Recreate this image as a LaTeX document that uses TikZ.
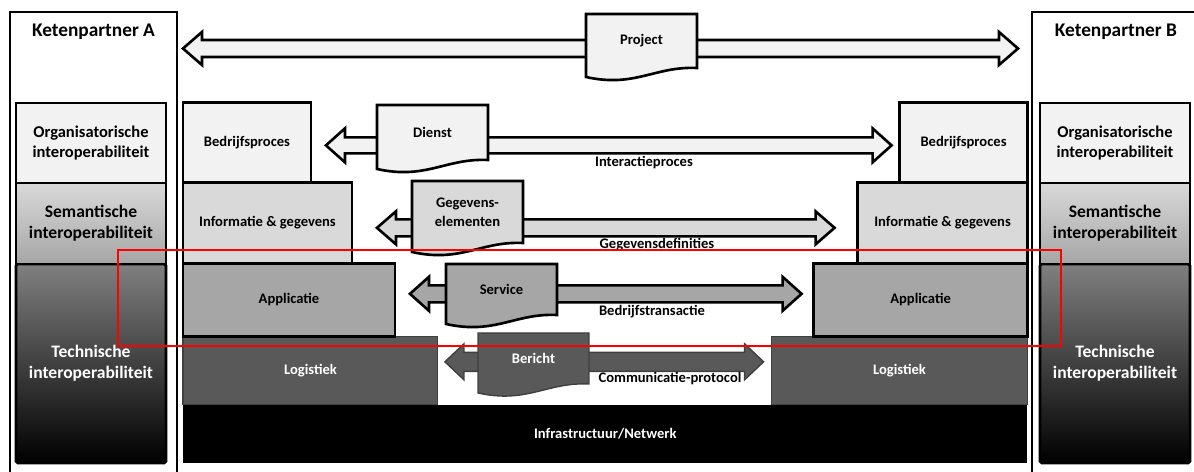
\documentclass[tikz,border=0pt]{standalone}
\usepackage{fontspec}
\setmainfont{Carlito}
\usepackage{tikz}
\usetikzlibrary{positioning, calc, backgrounds}
\definecolor{tone1}{RGB}{242, 242, 242}
\definecolor{tone2}{RGB}{217, 217, 217}
\definecolor{tone3}{RGB}{166, 166, 166}
\definecolor{tone4}{RGB}{89, 89, 89}
\definecolor{tone5}{RGB}{128, 128, 128}
\pgfdeclarelayer{docs}
\pgfsetlayers{background,docs,main}

% double block arrow: style, left tip, right tip, shaft half, head half
\newcommand{\dblarrow}[5]{%
  \draw[#1] (#2) -- ($(#2)+(19,-#5)$) -- ($(#2)+(19,-#4)$) -- ($(#3)+(-19,-#4)$) -- ($(#3)+(-19,-#5)$) -- (#3)
    -- ($(#3)+(-19,#5)$) -- ($(#3)+(-19,#4)$) -- ($(#2)+(19,#4)$) -- ($(#2)+(19,#5)$) -- cycle;}
% document shape round a node
\newcommand{\docshape}[2]{%
  \draw[#2] (#1.north west) -- (#1.north east) -- (#1.south east)
    .. controls ($(#1.south east)+(-42,-2)$) and ($(#1.south east)+(-62,20)$) .. ($(#1.south west)+(0,9)$) -- cycle;}

\begin{document}
\begin{tikzpicture}[
    x=0.02cm, y=-0.02cm,
    font=\bfseries\fontsize{8.3}{10.8}\selectfont,
    partner/.style={rectangle, draw, line width=1.5pt, anchor=north west, minimum height=9.36cm, outer sep=0pt},
    title/.style={font=\bfseries\fontsize{11}{13}\selectfont, inner sep=0pt},
    level/.style={rectangle, draw, line width=1.5pt, minimum width=3cm, align=center, outer sep=0pt, font=\bfseries\fontsize{10}{12}\selectfont},
    box/.style={rectangle, draw, line width=1.5pt, align=center, outer sep=0pt},
    darkbox/.style={rectangle, draw=black!75, line width=0.6pt, fill=tone4, text=white, outer sep=0pt},
    doc/.style={anchor=north west, minimum width=2.22cm, inner sep=0pt, outer sep=0pt, align=center},
    docline/.style={draw, line width=1.5pt, fill=#1},
    arrowline/.style={draw, line width=1.5pt, fill=#1},
    darkline/.style={draw=black!75, line width=0.8pt, fill=tone4},
    caption/.style={inner sep=0pt},
    focus/.style={draw=red, line width=1.2pt, anchor=north west, inner sep=0pt, minimum width=18.86cm, minimum height=1.92cm}
]
    \useasboundingbox (0,0) rectangle (1194,472);
    \clip (0,0) rectangle (1194,472);

    % ketenpartners
    \node[partner, minimum width=3.34cm] (ketA) at (10,12) {};
    \node[partner, minimum width=3.36cm] (ketB) at (1032,12) {};
    \node[title, below=0.24cm of ketA.north] (titA) {Ketenpartner A};
    \node[title, below=0.24cm of ketB.north] (titB) {Ketenpartner B};

    \node[level, anchor=south west, minimum height=3.98cm, top color=tone5, middle color=black!75, bottom color=black, text=white, rounded corners=1pt] (techA) at (16,463) {Technische\\interoperabiliteit};
    \node[level, anchor=south west, minimum height=1.62cm, top color=tone2, bottom color=tone3] (semA) at (techA.north west) {Semantische\\interoperabiliteit};
    \node[level, anchor=south west, minimum height=1.6cm, fill=tone1, font=\bfseries\fontsize{9.4}{11.8}\selectfont] (orgA) at (semA.north west) {Organisatorische\\interoperabiliteit};

    \node[level, anchor=south west, minimum height=3.98cm, top color=tone5, middle color=black!75, bottom color=black, text=white, rounded corners=1pt] (techB) at (1040,463) {Technische\\interoperabiliteit};
    \node[level, anchor=south west, minimum height=1.62cm, top color=tone2, bottom color=tone3] (semB) at (techB.north west) {Semantische\\interoperabiliteit};
    \node[level, anchor=south west, minimum height=1.6cm, fill=tone1, font=\bfseries\fontsize{9.4}{11.8}\selectfont] (orgB) at (semB.north west) {Organisatorische\\interoperabiliteit};

    % lagen
    \node[rectangle, fill=black, text=white, anchor=south west, minimum width=16.88cm, minimum height=1.16cm] (infra) at (183,463) {Infrastructuur/Netwerk};

    \node[darkbox, anchor=south west, minimum width=5.1cm, minimum height=1.36cm] (logL) at (infra.north west) {Logistiek};
    \node[box, fill=tone3, anchor=south west, minimum width=4.24cm, minimum height=1.46cm] (appL) at (logL.north west) {Applicatie};
    \node[box, fill=tone2, anchor=south west, minimum width=3.38cm, minimum height=1.62cm] (igL) at (appL.north west) {Informatie \& gegevens};
    \node[box, fill=tone1, anchor=south west, minimum width=2.56cm, minimum height=1.6cm] (bpL) at (igL.north west) {Bedrijfsproces};

    \node[darkbox, anchor=south east, minimum width=5.12cm, minimum height=1.36cm] (logR) at (infra.north east) {Logistiek};
    \node[box, fill=tone3, anchor=south east, minimum width=4.28cm, minimum height=1.46cm] (appR) at (logR.north east) {Applicatie};
    \node[box, fill=tone2, anchor=south east, minimum width=3.4cm, minimum height=1.62cm] (igR) at (appR.north east) {Informatie \& gegevens};
    \node[box, fill=tone1, anchor=south east, minimum width=2.56cm, minimum height=1.6cm] (bpR) at (igR.north east) {Bedrijfsproces};

    % documenten
    \node[doc, minimum height=1.08cm] (proj) at (586,14) {Project};
    \node[doc, minimum height=1.1cm] (dienst) at (377,105) {Dienst};
    \node[doc, minimum height=1.24cm] (gegev) at (412,181) {Gegevens-\\elementen};
    \node[doc, minimum height=1.02cm] (serv) at (446,264) {Service};
    \node[doc, minimum height=1.02cm, text=white] (ber) at (478,333) {Bericht};

    \node[caption] (lbInter) at (644,163) {Interactieproces};
    \node[caption] (lbGeg) at (657,245) {Gegevensdefinities};
    \node[caption] (lbTrans) at (652,312) {Bedrijfstransactie};
    \node[caption] (lbComm) at (670,379) {Communicatie-protocol};

    \coordinate (pA) at ($(ketA.north east)+(6,36.5)$);
    \coordinate (pB) at ($(ketB.north west)+(-14,36.5)$);
    \coordinate (iA) at ($(bpL.east)+(15,3)$);
    \coordinate (iB) at ($(bpR.west)+(-8,3)$);
    \coordinate (gA) at ($(igL.east)+(25,5)$);
    \coordinate (gB) at ($(igR.west)+(-23,5)$);
    \coordinate (bA) at ($(appL.east)+(15,-6)$);
    \coordinate (bB) at ($(appR.west)+(-12,-6)$);
    \coordinate (cA) at ($(logL.east)+(7,-8.5)$);
    \coordinate (cB) at ($(logR.west)+(-8,-8.5)$);

    \begin{pgfonlayer}{background}
        \dblarrow{arrowline=tone1}{pA}{pB}{8.5}{16.5}
        \dblarrow{arrowline=tone1}{iA}{iB}{8}{17}
        \dblarrow{arrowline=tone2}{gA}{gB}{8.5}{16.5}
        \dblarrow{arrowline=tone3}{bA}{bB}{8.5}{17}
        \dblarrow{darkline}{cA}{cB}{9.5}{18}
    \end{pgfonlayer}

    \begin{pgfonlayer}{docs}
        \docshape{proj}{docline=tone1}
        \docshape{dienst}{docline=tone1}
        \docshape{gegev}{docline=tone2}
        \docshape{serv}{docline=tone3}
        \docshape{ber}{darkline}
    \end{pgfonlayer}

    \node[focus] (kader) at (117,249) {};
\end{tikzpicture}
\end{document}
